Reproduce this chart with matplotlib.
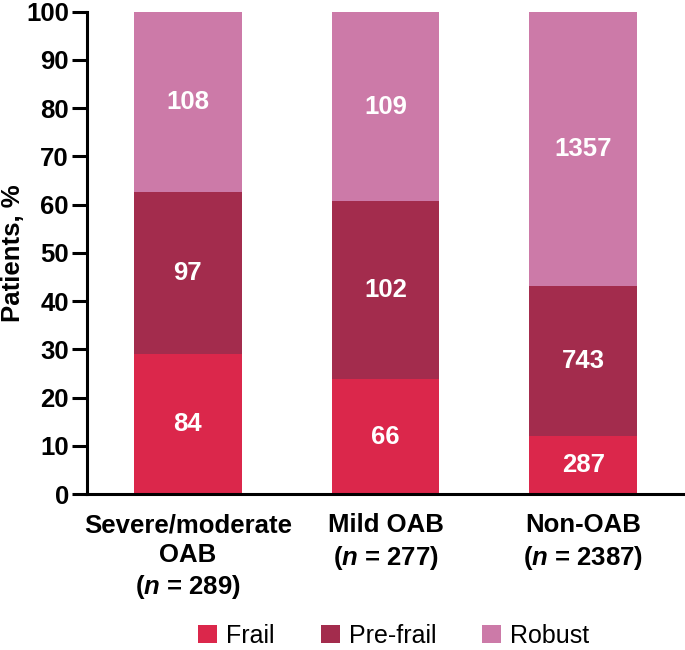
import matplotlib.pyplot as plt
import numpy as np

plt.rcParams['font.family'] = ['Liberation Sans', 'DejaVu Sans']
plt.rcParams['mathtext.fontset'] = 'custom'
plt.rcParams['mathtext.it'] = 'Liberation Sans:italic:bold'
plt.rcParams['mathtext.rm'] = 'Liberation Sans:bold'

# counts per group
groups = ['Severe/moderate\nOAB\n($n$ = 289)', 'Mild OAB\n($n$ = 277)', 'Non-OAB\n($n$ = 2387)']
frail = [84, 66, 287]
pre_frail = [97, 102, 743]
robust = [108, 109, 1357]

series = ['Frail', 'Pre-frail', 'Robust']
colors = ['#DB274B', '#A32C4D', '#CC7AA8']

counts = np.array([frail, pre_frail, robust], dtype=float)
pct = counts / counts.sum(axis=0) * 100

fig = plt.figure(figsize=(6.85, 6.5), dpi=100)
ax = fig.add_axes([0.127, 0.24, 0.873, 0.742])

x = np.arange(len(groups)) * 0.99
bottom = np.zeros(len(groups))
for i in range(len(series)):
    ax.bar(x, pct[i], 0.54, bottom=bottom, color=colors[i], label=series[i])
    for j in range(len(groups)):
        ax.text(x[j], bottom[j] + pct[i][j] / 2, f'{int(counts[i][j])}',
                ha='center', va='center', color='white', fontsize=18.5, fontweight='bold')
    bottom += pct[i]

ax.set_xlim(-0.505, x[-1] + 0.51)
ax.set_ylim(0, 100)
ax.set_yticks(range(0, 101, 10))
ax.set_xticks(x)
ax.set_xticklabels(groups, fontsize=18.5, fontweight='bold', linespacing=1.3)
ax.tick_params(axis='y', labelsize=18.5, length=11, width=2.2, pad=2)
ax.tick_params(axis='x', length=0, pad=14)
for lab in ax.get_yticklabels():
    lab.set_fontweight('bold')
ax.set_ylabel('Patients, %', fontsize=18.5, fontweight='bold', va='center')
ax.yaxis.set_label_coords(-0.124, 0.5)
for s in ['top', 'right']:
    ax.spines[s].set_visible(False)
for s in ['left', 'bottom']:
    ax.spines[s].set_linewidth(2.2)

fig.legend(loc='center', bbox_to_anchor=(0.575, 0.022), ncol=3, frameon=False,
           fontsize=18, handlelength=0.76, handleheight=0.76, handletextpad=0.36,
           columnspacing=1.84)

fig.savefig('out.png', dpi=100)
